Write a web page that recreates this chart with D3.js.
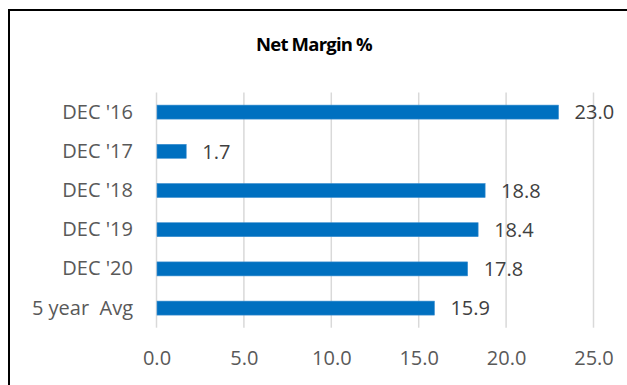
<!DOCTYPE html>
<html>
<head>
<meta charset="utf-8">
<script src="https://cdn.jsdelivr.net/npm/d3@7"></script>
<style>
  html, body { margin: 0; padding: 0; background: #fff; }
  svg { display: block; }
  text { font-family: "Open Sans", "Noto Sans", sans-serif; }
</style>
</head>
<body>
<svg id="chart" width="627" height="385"></svg>
<script>
// Net margin by year, plus the five-year average
const categories = ["DEC '16", "DEC '17", "DEC '18", "DEC '19", "DEC '20", "5 year  Avg"];
const netMargin = [23.0, 1.7, 18.8, 18.4, 17.8, 15.9];
const xTicks = [0, 5, 10, 15, 20, 25];
const title = "Net Margin %";

const svg = d3.select("#chart");
const W = 627, H = 385;

// Frame: only the top and left edges are inside the view
svg.append("path")
  .attr("d", `M9,${H + 5} V10 H${W + 5}`)
  .attr("fill", "none")
  .attr("stroke", "#000")
  .attr("stroke-width", 2);

const x = d3.scaleLinear().domain([0, 25]).range([156.5, 593.5]);
const y = d3.scaleBand()
  .domain(categories)
  .range([92.5, 327.7])
  .paddingInner(0.643)
  .paddingOuter(0.3215);

// Vertical gridlines
svg.append("g")
  .selectAll("line")
  .data(xTicks)
  .join("line")
  .attr("x1", d => x(d)).attr("x2", d => x(d))
  .attr("y1", 92.5).attr("y2", 327.7)
  .attr("stroke", "#d9d9d9")
  .attr("stroke-width", 1.5);

// Bottom axis labels (no axis line or tick marks)
const xAxis = d3.axisBottom(x)
  .tickValues(xTicks)
  .tickFormat(d3.format(".1f"))
  .tickSize(0)
  .tickPadding(0);
const gx = svg.append("g").attr("transform", "translate(0,351)").call(xAxis);
gx.select(".domain").remove();
gx.selectAll("text")
  .attr("fill", "#595959")
  .attr("dy", "0.71em")
  .style("font-size", "20px")
  .style("font-family", "'Open Sans', sans-serif");

// Category labels
const yAxis = d3.axisLeft(y).tickSize(0).tickPadding(0);
const gy = svg.append("g").attr("transform", "translate(133,0)").call(yAxis);
gy.select(".domain").remove();
gy.selectAll("text")
  .attr("fill", "#595959")
  .style("font-size", "20px")
  .style("white-space", "pre")
  .style("font-family", "'Open Sans', sans-serif");

// Bars
svg.append("g")
  .selectAll("rect")
  .data(netMargin)
  .join("rect")
  .attr("x", x(0) + 0.5)
  .attr("y", (d, i) => y(categories[i]))
  .attr("width", d => x(d) - x(0) - 0.5)
  .attr("height", y.bandwidth())
  .attr("fill", "#0070c0")
  .attr("stroke", "#3d8fd0")
  .attr("stroke-width", 0.6);

// Value labels
svg.append("g")
  .selectAll("text")
  .data(netMargin)
  .join("text")
  .attr("x", d => x(d) + 16)
  .attr("y", (d, i) => y(categories[i]) + y.bandwidth() / 2)
  .attr("dy", "0.36em")
  .attr("fill", "#404040")
  .style("font-size", "20px")
  .text(d => d3.format(".1f")(d));

// Title
svg.append("text")
  .attr("x", 314)
  .attr("y", 51)
  .attr("text-anchor", "middle")
  .attr("fill", "#000")
  .style("font-size", "18.5px")
  .style("font-weight", "bold")
  .style("letter-spacing", "-0.8px")
  .text(title);
</script>
</body>
</html>
